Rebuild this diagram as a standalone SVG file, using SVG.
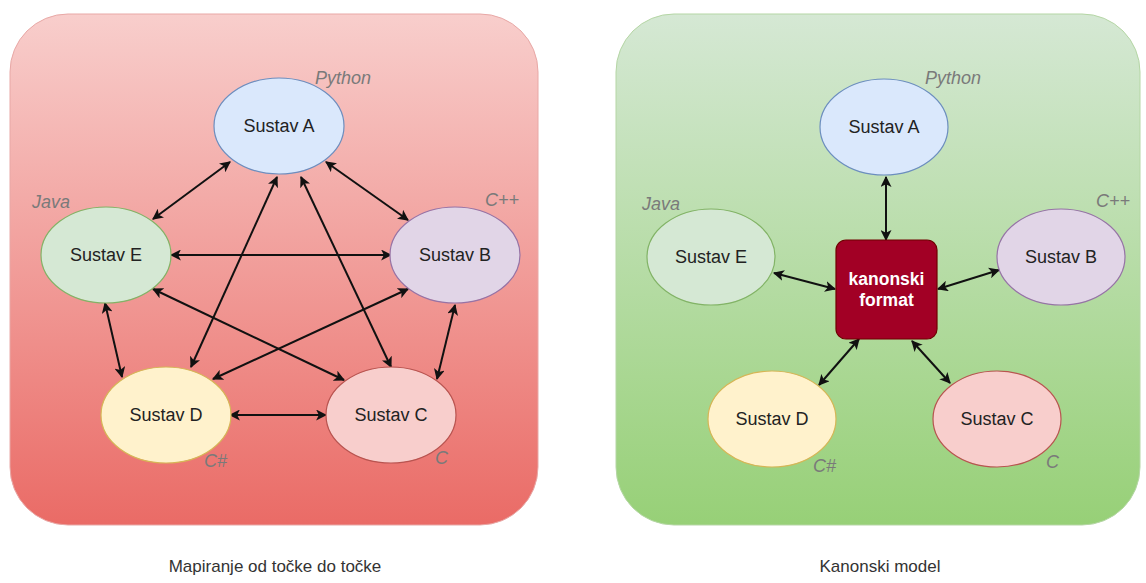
<svg xmlns="http://www.w3.org/2000/svg" width="1146" height="583" viewBox="0 0 1146 583">
<style>
text{font-family:"Liberation Sans",Arial,sans-serif}
.lbl{font-size:18px;fill:#222;text-anchor:middle}
.lang{font-size:18px;fill:#7a7a7a;font-style:italic}
.cap{font-size:17px;fill:#333;text-anchor:middle}
.con{stroke:#111;stroke-width:2;fill:none;marker-start:url(#ah);marker-end:url(#ah)}
.ea{fill:#dae8fc;stroke:#6c8ebf;stroke-width:1.2}
.eb{fill:#e1d5e7;stroke:#9673a6;stroke-width:1.2}
.ec{fill:#f8cecc;stroke:#b85450;stroke-width:1.2}
.ed{fill:#fff2cc;stroke:#d6b656;stroke-width:1.2}
.ee{fill:#d5e8d4;stroke:#82b366;stroke-width:1.2}
</style>
<defs>
<linearGradient id="gr" x1="0" y1="0" x2="0" y2="1"><stop offset="0" stop-color="#f8cecc"/><stop offset="1" stop-color="#ea6b66"/></linearGradient>
<linearGradient id="gg" x1="0" y1="0" x2="0" y2="1"><stop offset="0" stop-color="#d5e8d4"/><stop offset="1" stop-color="#97d077"/></linearGradient>
<marker id="ah" viewBox="0 0 10 10" refX="9" refY="5" markerWidth="5.5" markerHeight="5.5" orient="auto-start-reverse" markerUnits="strokeWidth"><path d="M0,0 L10,5 L0,10 L2.5,5 Z" fill="#111"/></marker>
</defs>
<rect width="1146" height="583" fill="#ffffff"/>
<g id="panel-left"><rect x="10" y="14" width="528" height="511" rx="58" fill="url(#gr)" stroke="#e8a8a6" stroke-width="1"/></g>
<g id="panel-right"><rect x="616" y="14" width="524" height="511" rx="58" fill="url(#gg)" stroke="#b5d6a5" stroke-width="1"/></g>
<g id="connectors-left">
<line class="con" x1="230" y1="162" x2="153" y2="219"/>
<line class="con" x1="326" y1="162" x2="408" y2="220"/>
<line class="con" x1="171" y1="255" x2="391" y2="255"/>
<line class="con" x1="277" y1="177" x2="191" y2="367"/>
<line class="con" x1="301" y1="177" x2="391" y2="367"/>
<line class="con" x1="105" y1="303" x2="122" y2="377"/>
<line class="con" x1="455" y1="305" x2="437" y2="379"/>
<line class="con" x1="153" y1="289" x2="344" y2="380"/>
<line class="con" x1="408" y1="289" x2="213" y2="379"/>
<line class="con" x1="230" y1="415" x2="326" y2="415"/>
</g>
<g id="connectors-right">
<line class="con" x1="886" y1="177" x2="886" y2="240"/>
<line class="con" x1="774" y1="273" x2="835" y2="289"/>
<line class="con" x1="999" y1="270" x2="938" y2="289"/>
<line class="con" x1="859" y1="339" x2="819" y2="385"/>
<line class="con" x1="912" y1="341" x2="950" y2="383"/>
</g>
<g id="left-sustav-a"><ellipse class="ea" cx="279" cy="126" rx="65" ry="48"/><text class="lbl" x="279" y="132">Sustav A</text><text class="lang" x="315" y="84">Python</text></g>
<g id="left-sustav-b"><ellipse class="eb" cx="455" cy="255" rx="65" ry="48"/><text class="lbl" x="455" y="261">Sustav B</text><text class="lang" x="485" y="206">C++</text></g>
<g id="left-sustav-c"><ellipse class="ec" cx="391" cy="415" rx="65" ry="48"/><text class="lbl" x="391" y="421">Sustav C</text><text class="lang" x="435" y="464">C</text></g>
<g id="left-sustav-d"><ellipse class="ed" cx="166" cy="415" rx="65" ry="48"/><text class="lbl" x="166" y="421">Sustav D</text><text class="lang" x="204" y="467">C#</text></g>
<g id="left-sustav-e"><ellipse class="ee" cx="106" cy="255" rx="65" ry="48"/><text class="lbl" x="106" y="261">Sustav E</text><text class="lang" x="32" y="208">Java</text></g>
<g id="right-sustav-a"><ellipse class="ea" cx="884" cy="127" rx="64" ry="48"/><text class="lbl" x="884" y="133">Sustav A</text><text class="lang" x="925" y="84">Python</text></g>
<g id="right-sustav-b"><ellipse class="eb" cx="1061" cy="257" rx="64" ry="48"/><text class="lbl" x="1061" y="263">Sustav B</text><text class="lang" x="1096" y="207">C++</text></g>
<g id="right-sustav-c"><ellipse class="ec" cx="997" cy="419" rx="64" ry="48"/><text class="lbl" x="997" y="425">Sustav C</text><text class="lang" x="1046" y="468">C</text></g>
<g id="right-sustav-d"><ellipse class="ed" cx="772" cy="419" rx="64" ry="48"/><text class="lbl" x="772" y="425">Sustav D</text><text class="lang" x="813" y="472">C#</text></g>
<g id="right-sustav-e"><ellipse class="ee" cx="711" cy="257" rx="64" ry="48"/><text class="lbl" x="711" y="263">Sustav E</text><text class="lang" x="642" y="210">Java</text></g>
<g id="kanonski-format"><rect x="836" y="240" width="101" height="99" rx="10" fill="#a20025" stroke="#6f0000" stroke-width="1.2"/><text x="886.5" y="285" font-size="17.5" font-weight="bold" fill="#ffffff" text-anchor="middle">kanonski</text><text x="886.5" y="306" font-size="17.5" font-weight="bold" fill="#ffffff" text-anchor="middle">format</text></g>
<g id="captions"><text class="cap" x="275" y="572">Mapiranje od točke do točke</text><text class="cap" x="880" y="572">Kanonski model</text></g>
</svg>
